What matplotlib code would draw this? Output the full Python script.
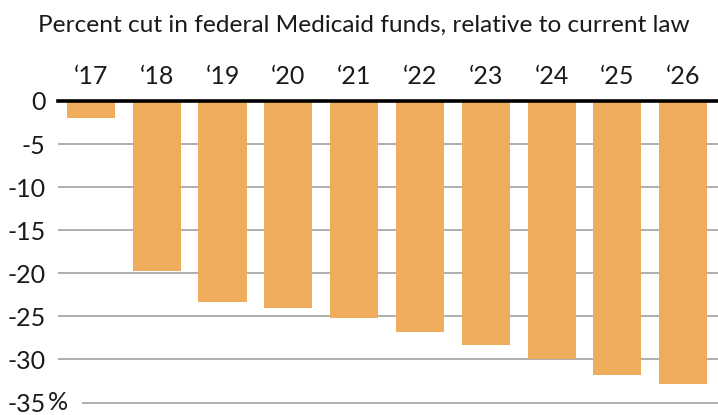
import matplotlib.pyplot as plt

plt.rcParams['font.family'] = ['Lato', 'DejaVu Sans']

years = ['‘17', '‘18', '‘19', '‘20', '‘21', '‘22', '‘23', '‘24', '‘25', '‘26']
cut_pct = [-2.0, -19.7, -23.3, -24.0, -25.2, -26.8, -28.3, -30.0, -31.8, -32.9]
yticks = [0, -5, -10, -15, -20, -25, -30, -35]
ytick_labels = ['0', '-5', '-10', '-15', '-20', '-25', '-30', '-35']

W, H = 718, 415
fig = plt.figure(figsize=(W / 100, H / 100), dpi=100)
ax = fig.add_axes([58 / W, 0, 1 - 58 / W, 1 - 101 / H])

x = range(len(years))
ax.bar(x, cut_pct, width=0.73, color='#EFAC5B', zorder=2)

# gridlines, the last one leaves room for the % sign
for t in yticks[1:-1]:
    ax.axhline(t, color='#a8a8a8', lw=1.3, zorder=1)
ax.axhline(-35, xmin=25 / 660, color='#a8a8a8', lw=1.3, zorder=1)
ax.axhline(0, color='black', lw=2.6, zorder=3, clip_on=False)

ax.set_xlim(-0.5, 9.53)
ax.set_ylim(-36.45, 0)

ax.xaxis.tick_top()
ax.set_xticks(list(x))
ax.set_xticklabels(years)
ax.set_yticks(yticks)
ax.set_yticklabels(ytick_labels)
ax.tick_params(axis='both', length=0, labelsize=18, colors='#1a1a1a')
ax.tick_params(axis='y', pad=9)
ax.tick_params(axis='x', pad=9)
for s in ax.spines.values():
    s.set_visible(False)

ax.text(-10 / 660, -35, '%', transform=ax.get_yaxis_transform(),
        ha='left', va='center', fontsize=18, color='#1a1a1a')

fig.text(38 / W, 1 - 32 / H, 'Percent cut in federal Medicaid funds, relative to current law',
         ha='left', va='baseline', fontsize=17.6, color='#1a1a1a')

fig.savefig('out.png', dpi=100)
